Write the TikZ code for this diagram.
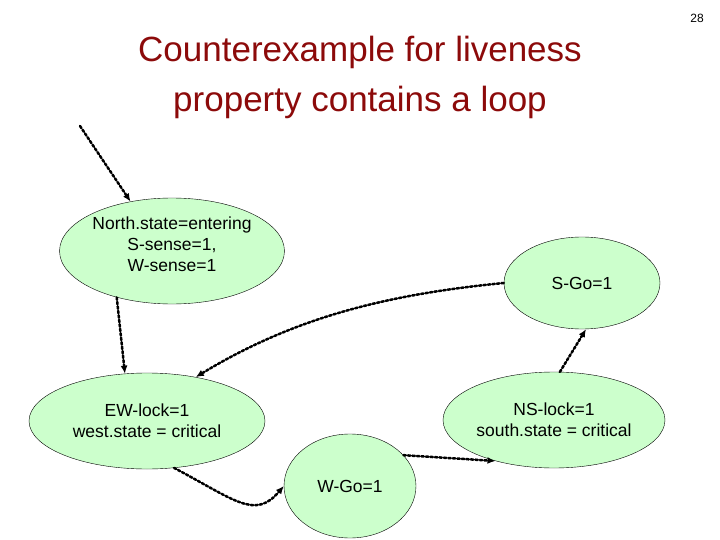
\documentclass[tikz,border=0pt]{standalone}
\usepackage{fontspec}
\setmainfont{Liberation Sans}
\usetikzlibrary{arrows.meta,shapes.geometric}
\definecolor{titlered}{RGB}{140,10,10}
\definecolor{stfill}{RGB}{204,255,204}
\begin{document}
\begin{tikzpicture}[x=1pt,y=-1pt,
  st/.style={ellipse,draw=black,fill=stfill,inner sep=0pt,align=center,font=\fontsize{17.5}{21}\selectfont},
  tr/.style={line width=2.5pt,dotted,line cap=round,-{Latex[length=8pt,width=7pt]}}]
\useasboundingbox (0,0) rectangle (720,540);
\node[font=\fontsize{12}{14}\selectfont] (pg) at (697,18) {28};
\node[text=titlered,align=center,font=\fontsize{35}{50}\selectfont] (title) at (360,77) {Counterexample for liveness\\property contains a loop};
\node[st,minimum width=212pt,minimum height=106pt] (N) at (172,251) {North.state=entering\\S-sense=1,\\W-sense=1\\[-8pt]};
\node[st,minimum width=156pt,minimum height=92pt] (S) at (582,283) {S-Go=1};
\node[st,minimum width=236pt,minimum height=96pt] (EW) at (147,421) {EW-lock=1\\west.state = critical};
\node[st,minimum width=222pt,minimum height=96pt] (NS) at (554,420) {NS-lock=1\\south.state = critical};
\node[st,minimum width=132pt,minimum height=104pt] (W) at (350,486) {W-Go=1};
\coordinate (start) at (80,126);
\draw[tr] (start) -- (N.130);
\draw[tr] (N.-140) -- (EW.115);
\draw[tr] (S.west) .. controls (380,295) and (290,320) .. (EW.42);
\draw[tr] (EW.-60) .. controls (235,500) and (255,520) .. (W.west);
\draw[tr] (W.30) -- (NS.-145);
\draw[tr] (NS.83) -- (S.-85);
\end{tikzpicture}
\end{document}
